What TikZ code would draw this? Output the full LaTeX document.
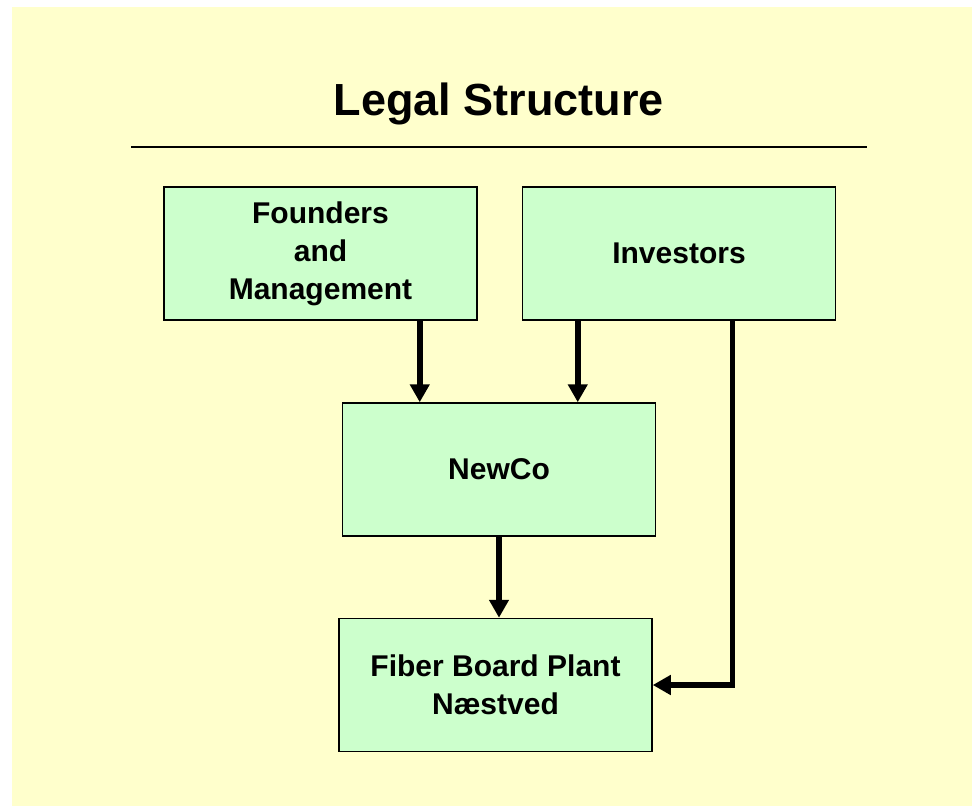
\documentclass[tikz,border=0pt]{standalone}
\usepackage{fontspec}
\setmainfont{Liberation Sans}
\usetikzlibrary{arrows.meta}

\definecolor{paper}{HTML}{FFFFCC}
\definecolor{boxgreen}{HTML}{CCFFCC}

\tikzset{
  entity/.style={draw, line width=1.5pt, fill=boxgreen, minimum width=313pt,
    minimum height=133pt, align=center, font=\fontsize{30}{38}\selectfont\bfseries},
  owns/.style={line width=5.5pt, -{Triangle[length=18pt,width=19pt]}}
}

\begin{document}
\begin{tikzpicture}[x=1pt,y=-1pt]
    \fill[white] (0,0) rectangle (972,806);
    \fill[paper] (12,7) rectangle (972,806);
    \node[anchor=base, font=\fontsize{45}{54}\selectfont\bfseries] (title) at (499,115) {Legal Structure};
    \draw[line width=1.5pt] (131,147) -- (867,147);
    \node[entity] (founders) at (320.5,253.5) {Founders\\and\\Management};
    \node[entity] (investors) at (679,253.5) {Investors};
    \node[entity] (newco) at (499,469.5) {NewCo};
    \node[entity] (plant) at (495.5,685) {Fiber Board Plant\\Næstved};
    \draw[owns] ([xshift=-58pt]founders.south east) -- ([xshift=-58pt]founders.south east |- newco.north);
    \draw[owns] ([xshift=56pt]investors.south west) -- ([xshift=56pt]investors.south west |- newco.north);
    \draw[owns] (newco.south) -- (newco.south |- plant.north);
    \draw[owns] ([xshift=-104pt]investors.south east) |- (plant.east);
\end{tikzpicture}
\end{document}
